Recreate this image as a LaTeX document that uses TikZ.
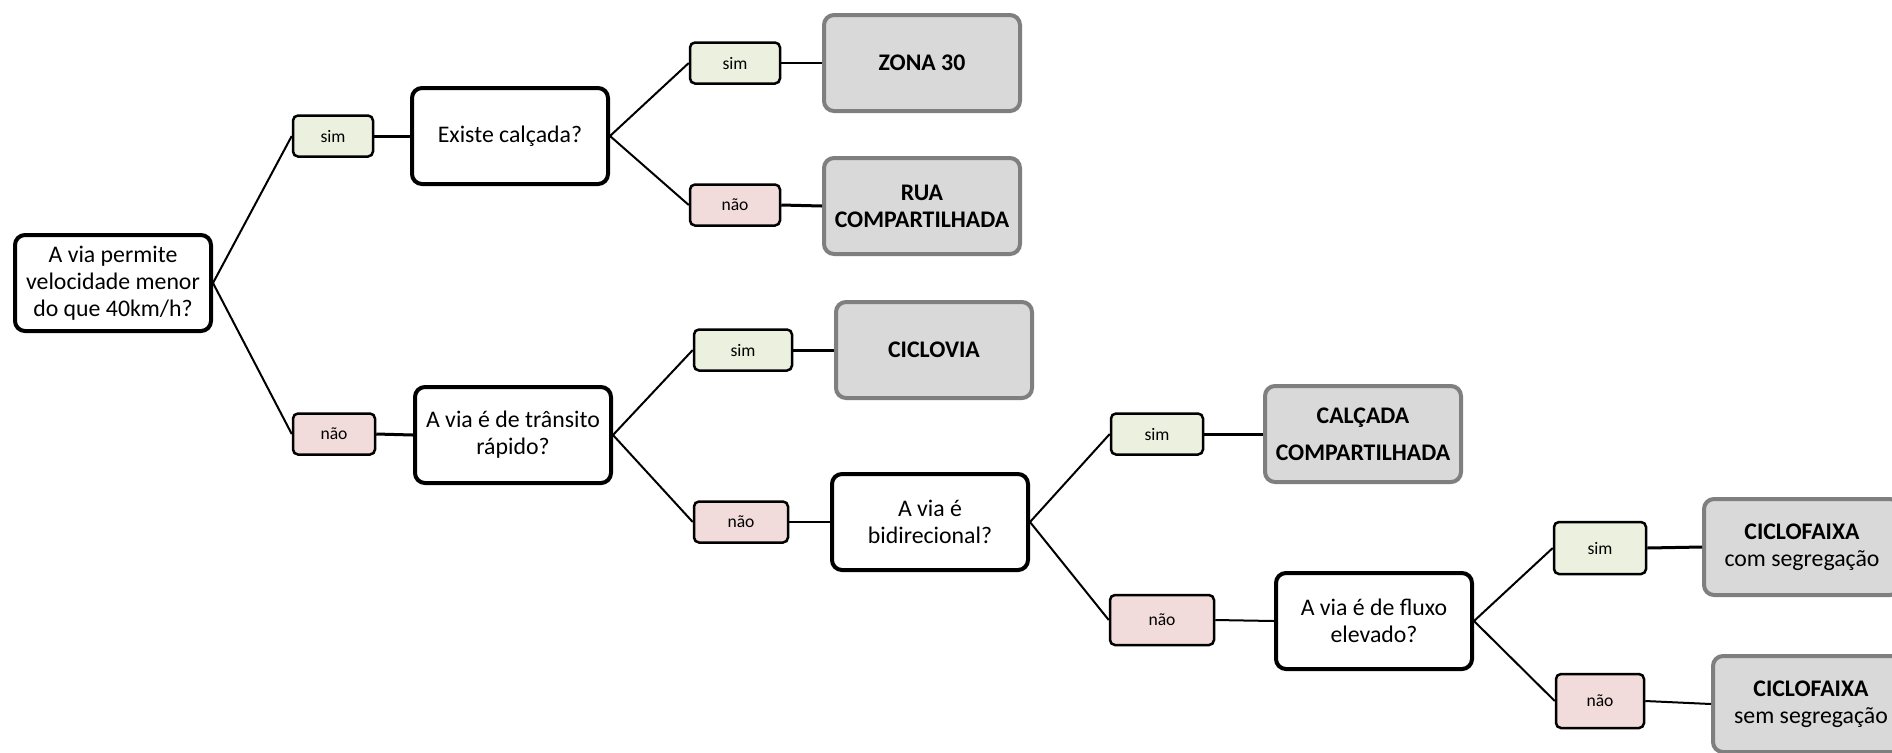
\documentclass[tikz,border=0pt]{standalone}
\usepackage{fontspec}
\setmainfont{Carlito}
\definecolor{yesfill}{HTML}{EBF1DE}
\definecolor{nofill}{HTML}{F2DCDB}
\definecolor{resfill}{HTML}{D9D9D9}
\definecolor{resdraw}{HTML}{7F7F7F}
\begin{document}
\begin{tikzpicture}[x=0.5pt,y=-0.5pt,
  question/.style={draw=black, line width=2pt, rounded corners=5pt, fill=white,
    minimum width=98pt, minimum height=48pt, align=center, inner sep=2pt,
    font=\fontsize{11.9}{13.4}\selectfont},
  result/.style={draw=resdraw, line width=2pt, rounded corners=5pt, fill=resfill,
    minimum width=98pt, minimum height=48pt, align=center, inner sep=2pt,
    font=\fontsize{11.9}{13.4}\selectfont},
  yesbox/.style={draw=black, line width=1.25pt, rounded corners=2.5pt, fill=yesfill,
    minimum height=20.5pt, inner sep=1pt, font=\fontsize{8.8}{10}\selectfont},
  nobox/.style={yesbox, fill=nofill},
  link/.style={line width=1pt},
  hlink/.style={line width=1.5pt}
]
\clip (0,0) rectangle (1892,752);
\fill[white] (0,0) rectangle (1892,752);

% questions
\node[question] (root) at (113,283) {A via permite\\velocidade menor\\do que 40km/h?};
\node[question] (q2) at (510,136) {Existe calçada?};
\node[question] (q3) at (513,435) {A via é de trânsito\\rápido?};
\node[question] (q4) at (930,522) {A via é\\bidirecional?};
\node[question] (q5) at (1374,621) {A via é de fluxo\\elevado?};

% labels
\node[yesbox, minimum width=40pt] (s1) at (333,136) {sim};
\node[nobox, minimum width=41pt] (n1) at (334,434) {não};
\node[yesbox, minimum width=45pt] (s2) at (735,63) {sim};
\node[nobox, minimum width=45pt] (n2) at (735,205) {não};
\node[yesbox, minimum width=49pt] (s3) at (743,350) {sim};
\node[nobox, minimum width=47pt] (n3) at (741,522) {não};
\node[yesbox, minimum width=46pt] (s4) at (1157,434) {sim};
\node[nobox, minimum width=52pt, minimum height=25pt] (n4) at (1162,620) {não};
\node[yesbox, minimum width=46pt, minimum height=26pt] (s5) at (1600,548) {sim};
\node[nobox, minimum width=44pt, minimum height=27pt] (n5) at (1600,701) {não};

% results
\node[result] (r1) at (922,63) {\textbf{ZONA 30}};
\node[result] (r2) at (922,206) {\textbf{RUA}\\\textbf{COMPARTILHADA}};
\node[result] (r3) at (934,350) {\textbf{CICLOVIA}};
\node[result, font=\fontsize{11.9}{18.5}\selectfont] (r4) at (1363,434) {\textbf{CALÇADA}\\\textbf{COMPARTILHADA}};
\node[result] (r5) at (1802,547) {\textbf{CICLOFAIXA}\\com segregação};
\node[result] (r6) at (1811,704) {\textbf{CICLOFAIXA}\\sem segregação};

% connectors
\draw[link] (root.east) -- (s1.west);
\draw[link] (root.east) -- (n1.west);
\draw[hlink] (s1.east) -- (q2.west);
\draw[hlink] (n1.east) -- (q3.west);
\draw[link] (q2.east) -- (s2.west);
\draw[link] (q2.east) -- (n2.west);
\draw[link] (s2.east) -- (r1.west);
\draw[hlink] (n2.east) -- (r2.west);
\draw[link] (q3.east) -- (s3.west);
\draw[link] (q3.east) -- (n3.west);
\draw[hlink] (s3.east) -- (r3.west);
\draw[link] (n3.east) -- (q4.west);
\draw[link] (q4.east) -- (s4.west);
\draw[link] (q4.east) -- (n4.west);
\draw[hlink] (s4.east) -- (r4.west);
\draw[link] (n4.east) -- (q5.west);
\draw[link] (q5.east) -- (s5.west);
\draw[link] (q5.east) -- (n5.west);
\draw[hlink] (s5.east) -- (r5.west);
\draw[link] (n5.east) -- (r6.west);
\end{tikzpicture}
\end{document}
